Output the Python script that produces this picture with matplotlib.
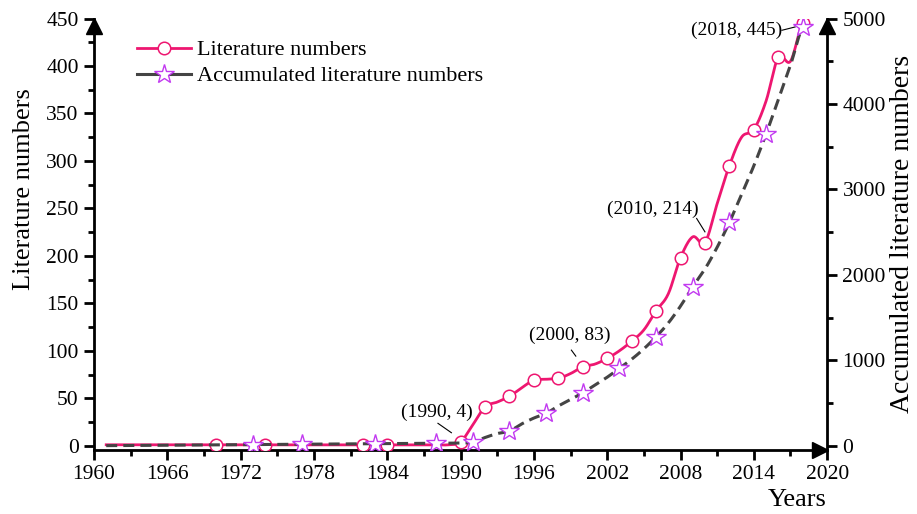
import numpy as np
import matplotlib
matplotlib.use("Agg")
import matplotlib.pyplot as plt
import matplotlib.transforms as mtransforms
from matplotlib.lines import Line2D

plt.rcParams['font.family'] = ['Liberation Serif', 'DejaVu Serif']

# ---------------- data ----------------
years = list(range(1961, 2019))
literature = [1, 1, 1, 1, 1, 1, 1, 1, 1, 1,      # 1961-1970
              1, 1, 1, 1, 1, 1, 1, 1, 1, 1,      # 1971-1980
              1, 1, 1, 1, 1, 1, 1, 1, 1, 4,      # 1981-1990
              22, 41, 46, 52, 61, 69, 70, 71, 76, 83,   # 1991-2000
              86, 92, 100, 110, 122, 142, 160, 198, 220, 214,  # 2001-2010
              255, 295, 325, 333, 363, 409, 405, 445]  # 2011-2018
accumulated = [1, 2, 3, 4, 5, 6, 7, 8, 9, 10,
               11, 12, 13, 14, 15, 16, 17, 18, 19, 20,
               21, 22, 23, 24, 25, 26, 27, 28, 29, 33,
               40, 96, 142, 172, 255, 324, 379, 465, 541, 620,
               710, 802, 906, 1012, 1134, 1275, 1436, 1634, 1860, 2068,
               2323, 2614, 2943, 3276, 3647, 4048, 4453, 4895]
lit_marker_years = [1970, 1974, 1982, 1984, 1990, 1992, 1994, 1996, 1998, 2000,
                    2002, 2004, 2006, 2008, 2010, 2012, 2014, 2016, 2018]
acc_marker_years = [1973, 1977, 1983, 1988, 1991, 1994, 1997, 2000, 2003, 2006,
                    2009, 2012, 2015, 2018]
annot_years = [1990, 2000, 2010, 2018]
x_ticks = [1960, 1966, 1972, 1978, 1984, 1990, 1996, 2002, 2008, 2014, 2020]
y_left_ticks = [0, 50, 100, 150, 200, 250, 300, 350, 400, 450]
y_right_ticks = [0, 1000, 2000, 3000, 4000, 5000]

PINK = '#EE1670'
STAR = '#C23AF0'
GREY = '#444444'


def catmull(x, y, n=24):
    x = np.asarray(x, float)
    y = np.asarray(y, float)
    xs, ys = [], []
    for i in range(len(x) - 1):
        p0 = y[i - 1] if i > 0 else y[i]
        p1, p2 = y[i], y[i + 1]
        p3 = y[i + 2] if i + 2 < len(y) else y[i + 1]
        t = np.linspace(0, 1, n, endpoint=(i == len(x) - 2))
        yy = 0.5 * ((2 * p1) + (-p0 + p2) * t + (2 * p0 - 5 * p1 + 4 * p2 - p3) * t ** 2
                    + (-p0 + 3 * p1 - 3 * p2 + p3) * t ** 3)
        xx = x[i] + (x[i + 1] - x[i]) * t
        xs.append(xx)
        ys.append(yy)
    return np.concatenate(xs), np.concatenate(ys)


fig = plt.figure(figsize=(9.17, 5.14), dpi=100)
ax = fig.add_axes([0.1025, 0.1245, 0.7995, 0.8395])
ax2 = ax.twinx()

# literature line
sx, sy = catmull(years, literature)
ax.plot(sx, sy, color=PINK, lw=2.0, zorder=3)
li = [years.index(y) for y in lit_marker_years]
ax.plot([years[i] for i in li], [literature[i] for i in li], ls='none', marker='o',
        ms=9, mfc='white', mec=PINK, mew=1.1, zorder=4)

# accumulated line
ax2.set_zorder(ax.get_zorder() + 1)
ax2.patch.set_visible(False)
ax.patch.set_visible(True)
ax2x, ax2y = catmull(years, accumulated)
ax2.plot(ax2x, ax2y, color=GREY, lw=2.2, dashes=(3.6, 2.0), zorder=2)
ai = [years.index(y) for y in acc_marker_years]
ax2.plot([years[i] for i in ai], [accumulated[i] for i in ai], ls='none', marker='*',
         ms=15, mfc='white', mec=STAR, mew=1.0, zorder=5)

# axes limits / ticks
ax.set_xlim(1960, 2020)
ax.set_ylim(-4.5, 450)
ax2.set_ylim(-50, 5000)
ax.set_xticks(x_ticks)
ax.set_xticks(np.arange(1963, 2020, 6), minor=True)
ax.set_yticks(y_left_ticks)
ax.set_yticks(np.arange(25, 450, 50), minor=True)
ax2.set_yticks(y_right_ticks)
ax2.set_yticks(np.arange(500, 5000, 1000), minor=True)

for a in (ax, ax2):
    a.spines['top'].set_visible(False)
    for s in a.spines.values():
        s.set_linewidth(2.0)
ax.spines['right'].set_visible(False)
ax2.spines['left'].set_visible(False)
ax2.spines['bottom'].set_visible(False)

ax.tick_params(axis='both', which='major', direction='out', length=7, width=2.0,
               labelsize=15.5, pad=4)
ax.tick_params(axis='both', which='minor', direction='out', length=4, width=2.0)
ax2.tick_params(axis='y', which='major', direction='out', length=7, width=2.0,
                labelsize=15.5, pad=4)
ax2.tick_params(axis='y', which='minor', direction='out', length=4, width=2.0)

ax.set_ylabel('Literature numbers', fontsize=19)
ax.yaxis.set_label_coords(-0.08, 0.605)
ax2.set_ylabel('Accumulated literature numbers', fontsize=20, labelpad=3)
ax.text(1.0, -0.09, 'Years', transform=ax.transAxes, ha='right', va='top',
        fontsize=19)

# axis arrows
tr_up = mtransforms.offset_copy(ax.transAxes, fig=fig, x=0, y=-7, units='dots')
ax.plot([0, 1], [1, 1], ls='none', marker='^', ms=11, color='black',
        transform=tr_up, clip_on=False, zorder=10)
tr_right = mtransforms.offset_copy(ax.transAxes, fig=fig, x=-7, y=0, units='dots')
ax.plot([1], [0], ls='none', marker='>', ms=11, color='black',
        transform=tr_right, clip_on=False, zorder=10)

# annotations
text_pos = [(1988.1, 35.5), (1998.9, 116.5), (2005.7, 249.0), (2012.6, 437.6)]
lead_pos = [((1988.15, 23.6), (1989.25, 13.7)),
            ((1999.07, 100.7), (1999.43, 94.4)),
            ((2009.32, 239.4), (2010.0, 225.3)),
            ((2016.3, 437.6), (2017.38, 441.1))]
for yr, tp, lp in zip(annot_years, text_pos, lead_pos):
    val = literature[years.index(yr)]
    ax.text(tp[0], tp[1], f'({yr}, {val})', ha='center', va='center', fontsize=14,
            zorder=6)
    ax.plot([lp[0][0], lp[1][0]], [lp[0][1], lp[1][1]], color='black', lw=0.8,
            zorder=6)

handles = [Line2D([], [], color=PINK, lw=2.0, marker='o', ms=9, mfc='white',
                  mec=PINK, mew=1.1),
           Line2D([], [], color=GREY, lw=2.2, marker='*', ms=15, mfc='white',
                  mec=STAR, mew=1.0)]
fig.legend(handles, ['Literature numbers', 'Accumulated literature numbers'],
           loc='upper left', bbox_to_anchor=(0.14, 0.94), frameon=False,
           fontsize=16, handlelength=2.4, handletextpad=0.3, labelspacing=0.25,
           borderaxespad=0)

fig.savefig('out.png', dpi=100)
